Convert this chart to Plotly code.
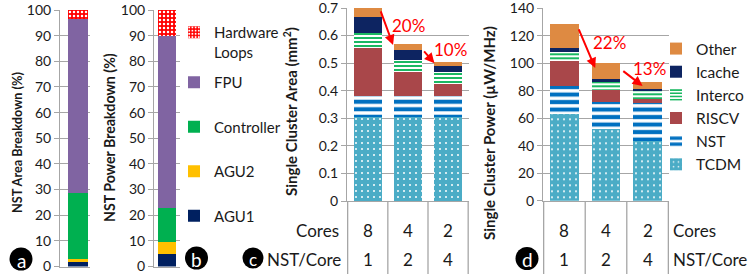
import plotly.graph_objects as go

# ---------------- data ----------------
nst_parts = ["AGU1", "AGU2", "Controller", "FPU", "Hardware<br>Loops"]
nst_area_pct = [1.6, 1.5, 25.7, 67.7, 3.5]
nst_power_pct = [4.8, 4.9, 13.1, 67.1, 10.1]

cluster_parts = ["TCDM", "NST", "RISCV", "Interco", "Icache", "Other"]
cores = ["8", "4", "2"]
nst_per_core = ["1", "2", "4"]
area_tcdm = [0.303, 0.303, 0.303]
area_nst = [0.078, 0.078, 0.078]
area_riscv = [0.173, 0.088, 0.042]
area_interco = [0.054, 0.042, 0.046]
area_icache = [0.058, 0.037, 0.022]
area_other = [0.034, 0.020, 0.014]
power_tcdm = [63.1, 51.9, 43.4]
power_nst = [20.4, 20.2, 27.5]
power_riscv = [18.4, 8.5, 3.1]
power_interco = [6.1, 5.5, 5.8]
power_icache = [2.9, 2.5, 1.7]
power_other = [17.5, 11.9, 5.1]
area_reduction = ["20%", "10%"]
power_reduction = ["22%", "13%"]
panel_letters = ["a", "b", "c", "d"]

area_series = [area_tcdm, area_nst, area_riscv, area_interco, area_icache, area_other]
power_series = [power_tcdm, power_nst, power_riscv, power_interco, power_icache, power_other]

# ---------------- styles ----------------
W, H = 748, 274
FONT = "Lato"
GRID = "#a6a6a6"
TXT = "#1a1a1a"


def px(x):
    return x / W


def py(y):
    return 1 - y / H


nst_styles = [
    dict(color="#002060"),
    dict(color="#FFC000"),
    dict(color="#00B050"),
    dict(color="#8064A2"),
    dict(color="#FF0000", pattern=dict(shape=".", fgcolor="white", bgcolor="#FF0000",
                                       size=4, solidity=0.3, fillmode="replace")),
]
nst_rank = [4, 3, 2, 1, 0]
cluster_styles = [
    dict(color="#4BACC6", pattern=dict(shape=".", fgcolor="white", bgcolor="#4BACC6",
                                       size=6, solidity=0.09, fillmode="replace")),
    dict(color="#0070C0", pattern=dict(shape="-", fgcolor="#0070C0", bgcolor="white",
                                       size=7.5, solidity=0.55, fillmode="replace")),
    dict(color="#A9474A"),
    dict(color="#00B050", pattern=dict(shape="-", fgcolor="#00B050", bgcolor="white",
                                       size=4, solidity=0.45, fillmode="replace")),
    dict(color="#0D2461"),
    dict(color="#DE8A42"),
]

fig = go.Figure()

# panels a and b
for i, name in enumerate(nst_parts):
    leg = "legend" if i == 4 else "legend2"
    fig.add_trace(go.Bar(x=[0], y=[nst_area_pct[i]], width=[1], name=name,
                         marker=dict(line=dict(width=0), **nst_styles[i]),
                         xaxis="x", yaxis="y", legend=leg, legendgroup=name,
                         legendrank=nst_rank[i], showlegend=True))
    fig.add_trace(go.Bar(x=[0], y=[nst_power_pct[i]], width=[1], name=name,
                         marker=dict(line=dict(width=0), **nst_styles[i]),
                         xaxis="x2", yaxis="y2", legend=leg, legendgroup=name,
                         legendrank=nst_rank[i], showlegend=False))

# panels c and d
for i, name in enumerate(cluster_parts):
    fig.add_trace(go.Bar(x=cores, y=area_series[i], name=name,
                         marker=dict(line=dict(width=0), **cluster_styles[i]),
                         xaxis="x3", yaxis="y3", legend="legend3", showlegend=False))
    fig.add_trace(go.Bar(x=cores, y=power_series[i], name=name,
                         marker=dict(line=dict(width=0), **cluster_styles[i]),
                         xaxis="x4", yaxis="y4", legend="legend3", showlegend=True))

area_tot = [sum(s[k] for s in area_series) for k in range(3)]
power_tot = [sum(s[k] for s in power_series) for k in range(3)]

yax_common = dict(showgrid=True, gridcolor=GRID, gridwidth=1, showline=True, linecolor=GRID,
                  linewidth=1, ticks="outside", ticklen=5, tickcolor=GRID, zeroline=False,
                  ticklabeloverflow="allow",
                  tickfont=dict(size=14, color=TXT), fixedrange=True)
xax_common = dict(showgrid=False, zeroline=False, showticklabels=False, showline=True,
                  linecolor=GRID, linewidth=1, ticks="", fixedrange=True)

fig.update_layout(
    width=W, height=H, autosize=False, margin=dict(l=0, r=0, t=0, b=0, autoexpand=False),
    paper_bgcolor="white", plot_bgcolor="white",
    barmode="stack", bargap=0.31,
    font=dict(family=FONT, color=TXT),
    xaxis=dict(domain=[px(60), px(90)], range=[-0.9, 0.6], anchor="y", **xax_common),
    yaxis=dict(domain=[py(266.5), py(10)], range=[0, 100], dtick=10, anchor="x", **yax_common),
    xaxis2=dict(domain=[px(154), px(180)], range=[-0.72, 0.72], anchor="y2", **xax_common),
    yaxis2=dict(domain=[py(266.5), py(10)], range=[0, 100], dtick=10, anchor="x2", **yax_common),
    xaxis3=dict(domain=[px(347), px(469)], anchor="y3", type="category", **xax_common),
    yaxis3=dict(domain=[py(201), py(8)], range=[0, 0.7], tickvals=[0, 0.1, 0.2, 0.3, 0.4, 0.5, 0.6, 0.7],
                ticktext=["0", "0.1", "0.2", "0.3", "0.4", "0.5", "0.6", "0.7"], anchor="x3",
                **yax_common),
    xaxis4=dict(domain=[px(543), px(669)], anchor="y4", type="category", **xax_common),
    yaxis4=dict(domain=[py(200.7), py(8.3)], range=[0, 140], tickvals=[0, 20, 40, 60, 80, 100, 120, 140],
                anchor="x4", **yax_common),
    legend=dict(x=px(174), y=py(16), xanchor="left", yanchor="top", valign="top",
                font=dict(size=15, color=TXT), bgcolor="rgba(0,0,0,0)", itemwidth=30,
                itemclick=False, itemdoubleclick=False),
    legend2=dict(x=px(174), y=py(66), xanchor="left", yanchor="top",
                 traceorder="grouped", tracegroupgap=22,
                 font=dict(size=15, color=TXT), bgcolor="rgba(0,0,0,0)", itemwidth=30,
                 itemclick=False, itemdoubleclick=False),
    legend3=dict(x=px(656), y=py(32), xanchor="left", yanchor="top", traceorder="reversed",
                 font=dict(size=15.5, color=TXT), bgcolor="rgba(0,0,0,0)", itemwidth=30,
                 itemclick=False, itemdoubleclick=False),
)

annotations = []
shapes = []

# axis titles
titles = [
    ("NST Area Breakdown (%)", 17, 143, 12.7),
    ("NST Power Breakdown (%)", 109, 138, 14.2),
    ("Single Cluster Area (mm<sup>2</sup>)", 291, 112, 15),
    ("Single Cluster Power (µW/MHz)", 489, 133, 15),
]
for t, x, y, fs in titles:
    annotations.append(dict(text="<b>" + t + "</b>", x=px(x), y=py(y), xref="paper", yref="paper",
                            textangle=-90, showarrow=False, xanchor="center", yanchor="middle",
                            font=dict(size=fs, color=TXT)))

# table beneath panels c and d
for xa in ["x3", "x4"]:
    ybot = py(201)
    for b in [-0.5, 0.5, 1.5, 2.5]:
        shapes.append(dict(type="line", xref=xa, yref="paper", x0=b, x1=b, y0=0, y1=ybot,
                           line=dict(color=GRID, width=1.3)))
    for k in range(3):
        annotations.append(dict(text=cores[k], x=k, y=py(230), xref=xa, yref="paper",
                                xanchor="center", yanchor="middle",
                                showarrow=False, font=dict(size=17, color=TXT)))
        annotations.append(dict(text=nst_per_core[k], x=k, y=py(259), xref=xa, yref="paper",
                                xanchor="center", yanchor="middle",
                                showarrow=False, font=dict(size=17, color=TXT)))
row_labels = [("Cores", 341, 230, "right"), ("NST/Core", 343, 259, "right"),
              ("Cores", 671, 230, "left"), ("NST/Core", 671, 259, "left")]
for t, x, y, anc in row_labels:
    annotations.append(dict(text=t, x=px(x), y=py(y), xref="paper", yref="paper", xanchor=anc,
                            yanchor="middle", showarrow=False, font=dict(size=17, color=TXT)))

# reduction arrows and labels
RED = "#FF0000"
arrow_specs = [
    ("x3", "y3", area_tot, area_reduction, [(0.31, -0.007, 0.63, -0.002), (0.37, -0.02, 0.66, -0.005)],
     [(1.02, -0.062), (2.06, -0.017)]),
    ("x4", "y4", power_tot, power_reduction, [(0.33, -2.7, 0.74, -3.9), (0.38, -5.4, 0.88, -3.1)],
     [(1.095, -13.6), (2.05, -4.6)]),
]
for xa, ya, tot, labels, arr, lab in arrow_specs:
    for k in range(2):
        tx, ty, hx, hy = arr[k]
        annotations.append(dict(x=k + hx, y=tot[k + 1] + hy, ax=k + tx, ay=tot[k] + ty,
                                xref=xa, yref=ya, axref=xa, ayref=ya, text="", showarrow=True,
                                arrowhead=2, arrowsize=1, arrowwidth=2, arrowcolor=RED))
        lx, ly = lab[k]
        annotations.append(dict(text=labels[k], x=lx, y=tot[k] + ly, xref=xa, yref=ya,
                                xanchor="center", yanchor="middle",
                                showarrow=False, font=dict(size=17, color=RED)))

# panel letters in black circles
circles = [(21, 259, 11.5), (196.5, 258, 11.5), (253, 258, 10.5), (527, 258.5, 11.5)]
for letter, (cx, cy, r) in zip(panel_letters, circles):
    shapes.append(dict(type="circle", xref="paper", yref="paper", layer="above",
                       x0=px(cx - r), x1=px(cx + r), y0=py(cy + r), y1=py(cy - r),
                       fillcolor="black", line=dict(color="black", width=0)))
    annotations.append(dict(text=letter, x=px(cx), y=py(cy + 1), xref="paper", yref="paper",
                            xanchor="center", yanchor="middle",
                            showarrow=False, font=dict(size=19 if r > 11 else 17, color="white")))

fig.update_layout(annotations=annotations, shapes=shapes)
fig.write_html("out.html", config={"displayModeBar": False},
               post_script="document.body.style.margin='0';document.body.style.padding='0';")
